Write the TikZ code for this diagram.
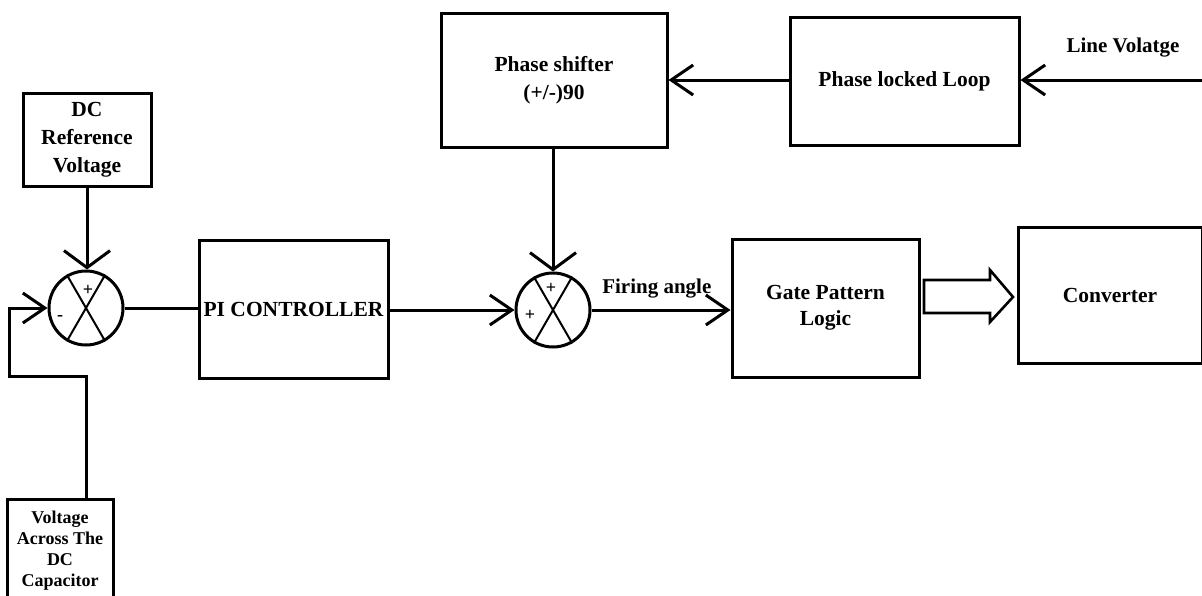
\documentclass[tikz,border=0pt]{standalone}
\usepackage{fontspec}
\setmainfont{Liberation Serif}
\usetikzlibrary{arrows.meta,calc}
\begin{document}
\begin{tikzpicture}[x=1pt,y=-1pt,
  line width=3pt,
  box/.style={draw,inner sep=0pt,align=center,font=\bfseries\fontsize{21.5}{28}\selectfont},
  sumj/.style={draw,circle,minimum size=74pt,inner sep=0pt},
  lbl/.style={font=\bfseries\fontsize{21}{24}\selectfont,inner sep=0pt},
  sgn/.style={font=\bfseries\fontsize{18}{20}\selectfont,inner sep=0pt},
  arr/.style={-{Straight Barb[length=22pt,width=30pt]}},
  arrtop/.style={-{Straight Barb[length=17pt,width=46pt]}}]
\useasboundingbox (0,0) rectangle (1202,595);
\clip (0,0) rectangle (1202,595);
% boxes
\node[box,minimum width=128pt,minimum height=93pt] (ref) at (87,139.5) {DC\\Reference\\Voltage};
\node[box,minimum width=106pt,minimum height=104pt,font=\bfseries\fontsize{18}{21}\selectfont] (cap) at (60,551) {Voltage\\Across The\\DC\\Capacitor};
\node[box,minimum width=189pt,minimum height=138pt] (pi) at (293.5,309) {PI CONTROLLER};
\node[box,minimum width=226pt,minimum height=134pt] (ps) at (554,80) {Phase shifter\\(+/-)90};
\node[box,minimum width=229pt,minimum height=128pt] (pll) at (904.5,81) {Phase locked Loop};
\node[box,minimum width=187pt,minimum height=138pt,font=\bfseries\fontsize{21.5}{26}\selectfont] (gate) at (825.5,308) {Gate Pattern\\Logic};
\node[box,minimum width=184pt,minimum height=136pt] (conv) at (1110,295) {Converter};
% summing junctions
\node[sumj] (s1) at (86,308) {};
\node[sumj] (s2) at (553,310) {};
\foreach \s in {s1,s2}{
  \draw[line width=2pt] (\s.120) -- (\s.-60);
  \draw[line width=2pt] (\s.60) -- (\s.240);
}
\node[sgn] at (88,290) {+};
\node[sgn] at (60,318) {-};
\node[sgn] at (551,288) {+};
\node[sgn] at (530,315) {+};
% connectors
\draw[arrtop] (ref.south) -- (ref.south |- s1.north);
\coordinate (fb0) at (86,499);
\coordinate (fb1) at (86,376);
\coordinate (fb2) at (9,376);
\draw[arr] (fb0) -- (fb1) -- (fb2) -- (fb2 |- s1.west) -- (s1.west);
\draw (s1.east) -- (pi.west |- s1.east);
\draw[arr] (pi.east |- s2.west) -- (s2.west);
\draw[arrtop] (ps.south -| s2.north) -- (s2.north);
\draw[arr] (s2.east) -- (gate.west |- s2.east) node[lbl,pos=0.47,above=10pt] {Firing angle};
\draw[arr] (pll.west |- ps.east) -- (ps.east);
\coordinate (lv) at (1202,80);
\draw[arr] (lv) -- (pll.east |- lv);
\node[lbl] (lvl) at (1123,48) {Line Volatge};
% fat arrow gate -> converter
\draw[line width=2.6pt,line join=miter] (924,280) -- (990,280) -- (990,270) -- (1013,297) -- (990,322) -- (990,313) -- (924,313) -- cycle;
\end{tikzpicture}
\end{document}
